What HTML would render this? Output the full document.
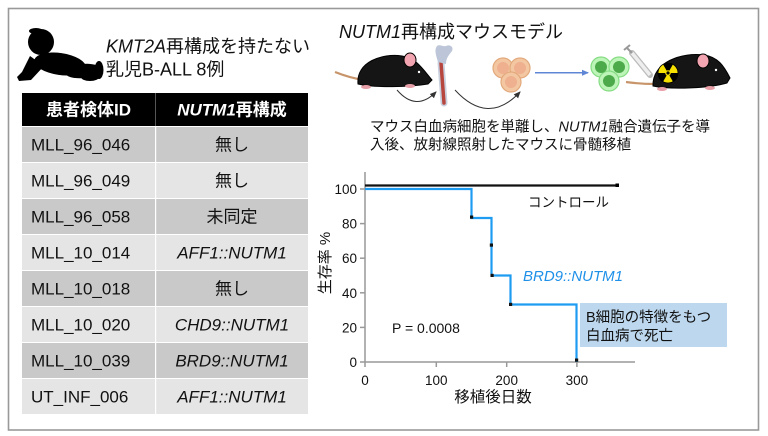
<!DOCTYPE html>
<html><head><meta charset="utf-8">
<style>
html,body{margin:0;padding:0;background:#fff;}
svg{display:block;}
text{font-family:"Liberation Sans","Noto Sans CJK JP",sans-serif;}
</style></head>
<body>
<svg width="768" height="436" viewBox="0 0 768 436" xmlns="http://www.w3.org/2000/svg">
<defs>
<marker id="ah" markerWidth="8" markerHeight="8" refX="6" refY="4" orient="auto" markerUnits="userSpaceOnUse">
<path d="M0,1 L7,4 L0,7 Z" fill="#333"/></marker>
<marker id="ab" markerWidth="8" markerHeight="8" refX="6" refY="4" orient="auto" markerUnits="userSpaceOnUse">
<path d="M0,1 L7,4 L0,7 Z" fill="#5f86d4"/></marker>
</defs>
<!-- frame -->
<rect x="8.5" y="8.5" width="750" height="421.5" fill="none" stroke="#999" stroke-width="1.6"/>

<!-- baby silhouette -->
<g fill="#000">
<ellipse cx="41" cy="42" rx="13" ry="13"/>
<ellipse cx="36" cy="31" rx="7" ry="3"/>
<ellipse cx="60" cy="64" rx="26" ry="11" transform="rotate(8 60 64)"/>
<path d="M30,56 L22,72 L17,77 L19,81 L31,80 L44,66 Z"/>
<ellipse cx="83" cy="71" rx="18" ry="7" transform="rotate(-6 83 71)"/>
<ellipse cx="99" cy="70" rx="4.5" ry="9"/>
<ellipse cx="90" cy="77" rx="9" ry="4"/>
</g>
<text x="106" y="52.5" font-size="18" fill="#111"><tspan font-style="italic">KMT2A</tspan>再構成を持たない</text>
<text x="106" y="75.5" font-size="18" fill="#111">乳児B-ALL 8例</text>

<!-- table -->
<rect x="22" y="93" width="286" height="33" fill="#000"/>
<rect x="155" y="93" width="1" height="33" fill="#555"/>
<text x="88.5" y="115.5" font-size="17" font-weight="bold" fill="#fff" text-anchor="middle">患者検体ID</text>
<text x="232" y="115.5" font-size="17" font-weight="bold" fill="#fff" text-anchor="middle"><tspan font-style="italic">NUTM1</tspan>再構成</text>

<g>
<rect x="22" y="127" width="286" height="35" fill="#c9c9c9"/>
<rect x="22" y="163" width="286" height="35" fill="#e5e5e5"/>
<rect x="22" y="199" width="286" height="35" fill="#c9c9c9"/>
<rect x="22" y="235" width="286" height="35" fill="#e5e5e5"/>
<rect x="22" y="271" width="286" height="35" fill="#c9c9c9"/>
<rect x="22" y="307" width="286" height="35" fill="#e5e5e5"/>
<rect x="22" y="343" width="286" height="35" fill="#c9c9c9"/>
<rect x="22" y="379" width="286" height="35" fill="#e5e5e5"/>
<rect x="155" y="127" width="1.2" height="287" fill="#fff"/>
</g>
<g font-size="17" fill="#111">
<text x="31" y="150.5">MLL_96_046</text>
<text x="31" y="186.5">MLL_96_049</text>
<text x="31" y="222.5">MLL_96_058</text>
<text x="31" y="258.5">MLL_10_014</text>
<text x="31" y="294.5">MLL_10_018</text>
<text x="31" y="330.5">MLL_10_020</text>
<text x="31" y="366.5">MLL_10_039</text>
<text x="31" y="402.5">UT_INF_006</text>
</g>
<g font-size="17" fill="#111" text-anchor="middle">
<text x="232" y="150.5">無し</text>
<text x="232" y="186.5">無し</text>
<text x="232" y="222.5">未同定</text>
<text x="232" y="258.5" font-style="italic">AFF1::NUTM1</text>
<text x="232" y="294.5">無し</text>
<text x="232" y="330.5" font-style="italic">CHD9::NUTM1</text>
<text x="232" y="366.5" font-style="italic">BRD9::NUTM1</text>
<text x="232" y="402.5" font-style="italic">AFF1::NUTM1</text>
</g>

<!-- right title -->
<text x="339" y="38" font-size="18" fill="#111"><tspan font-style="italic">NUTM1</tspan>再構成マウスモデル</text>

<!-- left mouse -->
<path d="M335,72 Q350,78 364,80" stroke="#c8946a" stroke-width="2.2" fill="none"/>
<path d="M358,84 C356,62 382,53 402,56 C416,58 422,68 432,80 L428,84 C410,87 375,88 358,84 Z" fill="#151515" stroke="#000"/>
<ellipse cx="366" cy="87" rx="5" ry="2" fill="#e8a0a8"/>
<ellipse cx="410" cy="86" rx="5" ry="2" fill="#e8a0a8"/>
<ellipse cx="410" cy="60" rx="6" ry="7" fill="#f2a5b0" stroke="#000" stroke-width="1"/>
<circle cx="419" cy="72" r="1.2" fill="#fff"/>

<!-- bone -->
<path d="M441,63 L444,103" stroke="#c9d0de" stroke-width="7" stroke-linecap="round"/>
<path d="M441,63 L444,103" stroke="#b7463f" stroke-width="3.5" stroke-linecap="round"/>
<path d="M438,62 C436,55 434,50 437,46 C440,44 443,47 446,46 C450,44 454,47 452,51 C449,55 446,58 446,64 Z" fill="#bcc6d8"/>

<!-- curved arrows -->
<path d="M397,90 Q416,112 436,92" stroke="#333" stroke-width="1" fill="none" marker-end="url(#ah)"/>
<path d="M455,90 Q488,126 520,92" stroke="#333" stroke-width="1" fill="none" marker-end="url(#ah)"/>

<!-- orange cells -->
<g stroke="#e2a97c" stroke-width="1.2" fill="#f4c7a3">
<circle cx="503" cy="68" r="10"/>
<circle cx="520" cy="68" r="10"/>
<circle cx="511" cy="82" r="10"/>
</g>
<g fill="#eeb08e">
<circle cx="503" cy="68" r="6"/>
<circle cx="520" cy="68" r="6"/>
<circle cx="511" cy="82" r="6"/>
</g>

<!-- blue arrow -->
<line x1="535" y1="72.7" x2="588" y2="72.7" stroke="#5f86d4" stroke-width="1.5" marker-end="url(#ab)"/>

<!-- green cells -->
<g stroke="#86dc84" stroke-width="1.2" fill="#bdf5b8">
<circle cx="601" cy="67" r="10"/>
<circle cx="619" cy="67" r="10"/>
<circle cx="609" cy="81" r="10"/>
</g>
<g fill="#4daa4a">
<circle cx="601" cy="67" r="6"/>
<circle cx="619" cy="67" r="6"/>
<circle cx="609" cy="81" r="6"/>
</g>

<!-- syringe -->
<path d="M632,53 L650,75" stroke="#bbb" stroke-width="6" stroke-linecap="round"/>
<path d="M632,53 L650,75" stroke="#eee" stroke-width="3.5"/>
<path d="M627,48 L632,53" stroke="#999" stroke-width="2"/>
<path d="M624,50 L630,45" stroke="#999" stroke-width="2"/>

<!-- right mouse -->
<path d="M626,82 Q640,84 656,84" stroke="#c8946a" stroke-width="2.2" fill="none"/>
<path d="M653,86 C652,62 682,52 704,55 C718,57 724,66 730,78 L727,83 C710,88 672,90 653,86 Z" fill="#151515" stroke="#000"/>
<ellipse cx="662" cy="89" rx="5" ry="2" fill="#e8a0a8"/>
<ellipse cx="710" cy="88" rx="5" ry="2" fill="#e8a0a8"/>
<ellipse cx="703" cy="61" rx="6" ry="7" fill="#f2a5b0" stroke="#000" stroke-width="1"/>
<circle cx="716" cy="70" r="1.2" fill="#fff"/>
<circle cx="668" cy="73" r="10" fill="#f5e000" stroke="#000" stroke-width="0.8"/>
<g fill="#000">
<path d="M668,73 L663,64.3 A10,10 0 0 1 673,64.3 Z"/>
<path d="M668,73 L678,73 A10,10 0 0 1 673,81.7 Z"/>
<path d="M668,73 L663,81.7 A10,10 0 0 1 658,73 Z"/>
</g>
<circle cx="668" cy="73" r="2.8" fill="#f5e000"/>
<circle cx="668" cy="73" r="1.6" fill="#000"/>

<!-- caption -->
<text x="370" y="131.5" font-size="14.5" fill="#111">マウス白血病細胞を単離し、<tspan font-style="italic">NUTM1</tspan>融合遺伝子を導</text>
<text x="370" y="149.5" font-size="14.5" fill="#111">入後、放射線照射したマウスに骨髄移植</text>

<!-- chart axes -->
<g stroke="#999" stroke-width="1.5" fill="none">
<line x1="365" y1="172" x2="365" y2="362"/>
<line x1="365" y1="362" x2="635" y2="362"/>
<line x1="360" y1="189" x2="365" y2="189"/>
<line x1="360" y1="223.6" x2="365" y2="223.6"/>
<line x1="360" y1="258.2" x2="365" y2="258.2"/>
<line x1="360" y1="292.8" x2="365" y2="292.8"/>
<line x1="360" y1="327.4" x2="365" y2="327.4"/>
<line x1="360" y1="362" x2="365" y2="362"/>
<line x1="365" y1="362" x2="365" y2="367"/>
<line x1="436.3" y1="362" x2="436.3" y2="367"/>
<line x1="506.7" y1="362" x2="506.7" y2="367"/>
<line x1="576.9" y1="362" x2="576.9" y2="367"/>
</g>
<g font-size="13.5" fill="#111" text-anchor="end">
<text x="357" y="194">100</text>
<text x="357" y="228.6">80</text>
<text x="357" y="263.2">60</text>
<text x="357" y="297.8">40</text>
<text x="357" y="332.4">20</text>
<text x="357" y="367">0</text>
</g>
<g font-size="13.5" fill="#111" text-anchor="middle">
<text x="365" y="385">0</text>
<text x="436.3" y="385">100</text>
<text x="506.7" y="385">200</text>
<text x="576.9" y="385">300</text>
</g>
<text x="493" y="402" font-size="15.5" fill="#111" text-anchor="middle">移植後日数</text>
<text transform="translate(330 263) rotate(-90)" font-size="15" fill="#111" text-anchor="middle">生存率 %</text>

<!-- control -->
<line x1="365" y1="185.5" x2="617" y2="185.5" stroke="#111" stroke-width="2.2"/>
<rect x="615.5" y="183.5" width="3.5" height="3.5" fill="#000"/>
<text x="528" y="207" font-size="13.5" fill="#111">コントロール</text>

<!-- blue series -->
<path d="M365,189 H471.5 V218 H491.5 V275.5 H510.5 V304.5 H576.5 V362" stroke="#1e9cf2" stroke-width="2.2" fill="none"/>
<g fill="#111">
<rect x="470" y="215.5" width="3.2" height="3.2"/>
<rect x="489.8" y="243.5" width="3.2" height="3.2"/>
<rect x="490.5" y="273.8" width="3.2" height="3.2"/>
<rect x="509" y="302.8" width="3.2" height="3.2"/>
<rect x="575" y="358.5" width="3.2" height="3.2"/>
</g>
<text x="523" y="281" font-size="15" font-style="italic" fill="#1e90e8">BRD9::NUTM1</text>
<text x="392" y="333" font-size="14" fill="#111">P = 0.0008</text>

<!-- box -->
<rect x="580" y="303" width="147" height="44" fill="#bcd7ee"/>
<text x="586" y="322" font-size="14.5" fill="#111">B細胞の特徴をもつ</text>
<text x="586" y="340.5" font-size="14.5" fill="#111">白血病で死亡</text>
</svg>
</body></html>
